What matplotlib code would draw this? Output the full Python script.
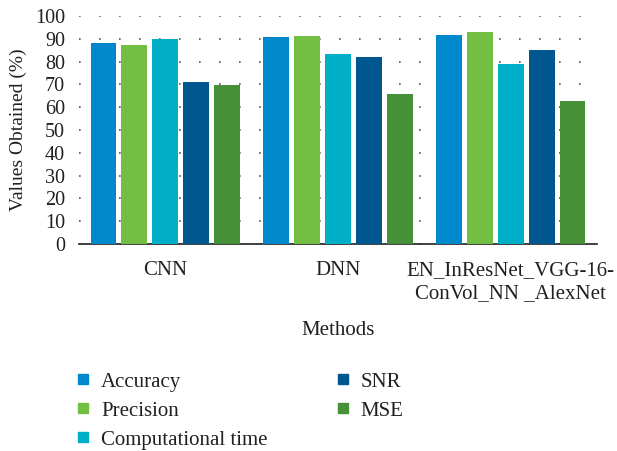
import matplotlib
matplotlib.use("Agg")
import matplotlib.pyplot as plt
import numpy as np
from matplotlib.lines import Line2D

plt.rcParams['font.family'] = ['Liberation Serif', 'DejaVu Serif']

methods = ["CNN", "DNN", "EN_InResNet_VGG-16-\nConVol_NN _AlexNet"]
series_names = ["Accuracy", "Precision", "Computational time", "SNR", "MSE"]
accuracy = [88.2, 90.8, 91.7]
precision = [87.3, 91.2, 93.0]
comp_time = [89.9, 83.3, 79.0]
snr = [71.0, 82.0, 85.1]
mse = [69.7, 65.8, 62.7]
yticks = [0, 10, 20, 30, 40, 50, 60, 70, 80, 90, 100]

colors = ["#0088CC", "#72BF44", "#00AEC7", "#00568F", "#469137"]
values = [accuracy, precision, comp_time, snr, mse]
tc = "#231f20"

fig = plt.figure(figsize=(6.17, 4.51), dpi=100)
ax = fig.add_axes([79/617, 1-244/451, (597-79)/617, (244-16)/451])

x = np.arange(len(methods))
step = 0.179
width = 0.150
for i, (name, vals, c) in enumerate(zip(series_names, values, colors)):
    ax.bar(x + (i - 2) * step, vals, width=width, color=c, label=name, zorder=3)

ax.set_xlim(-0.5, 2.5)
ax.set_ylim(0, 100)
ax.set_yticks(yticks)
ax.set_xticks(x)
ax.set_xticklabels(methods, fontsize=15, color=tc, linespacing=1.3)
ax.tick_params(axis='y', labelsize=14.5, colors=tc, length=0, pad=10)
ax.tick_params(axis='x', length=0, pad=12)
ax.yaxis.grid(True, linestyle=(0, (1, 11)), color="#555555", linewidth=1.2, zorder=0)
for s in ["top", "right", "left"]:
    ax.spines[s].set_visible(False)
ax.spines["bottom"].set_color(tc)
ax.spines["bottom"].set_linewidth(1.2)
ax.set_ylabel("Values Obtained (%)", fontsize=14, color=tc, labelpad=6)
ax.set_xlabel("Methods", fontsize=15, color=tc, labelpad=13)

handles = [Line2D([], [], marker='s', linestyle='none', color=c, markersize=6.5) for c in colors]
fig.legend(handles, series_names, ncol=2, loc='upper left', bbox_to_anchor=(73/617, 1-372/451),
           frameon=False, fontsize=15, handletextpad=0.35, columnspacing=3.1, labelspacing=0.45,
           handlelength=1.0, borderpad=0, borderaxespad=0, labelcolor=tc)

fig.savefig("out.png", dpi=100)
